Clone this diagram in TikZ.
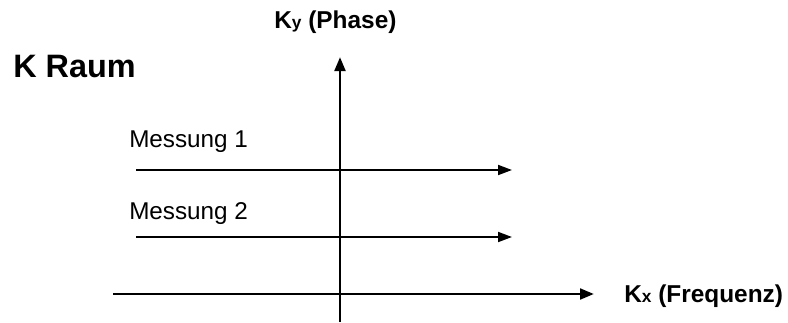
\documentclass[tikz,border=0pt]{standalone}
\usepackage{fontspec}
\setmainfont{Liberation Sans}
\usetikzlibrary{arrows.meta}
\begin{document}
\begin{tikzpicture}[x=0.75pt,y=-0.75pt,
  axis/.style={line width=2.2pt,-{Triangle[length=10.5pt,width=8pt]}},
  meas/.style={line width=1.4pt,-{Triangle[length=10.5pt,width=7.5pt]}},
  lbl/.style={inner sep=0pt,anchor=base west},
  bigfont/.style={font=\fontsize{24.3}{28}\selectfont\bfseries},
  axfont/.style={font=\fontsize{18.3}{22}\selectfont\bfseries},
  mfont/.style={font=\fontsize{18.2}{22}\selectfont}]
\useasboundingbox (0,0) rectangle (788,322);
% axes
\coordinate (ybot) at (340,322);
\coordinate (ytop) at (340,57);
\coordinate (xl) at (113,294);
\coordinate (xr) at (594,294);
\draw[axis] (ybot) -- (ytop);
\draw[axis] (xl) -- (xr);
% measurement lines
\coordinate (m1l) at (136,170);
\coordinate (m1r) at (512,170);
\coordinate (m2l) at (136,237);
\coordinate (m2r) at (512,237);
\draw[meas] (m1l) -- (m1r);
\draw[meas] (m2l) -- (m2r);
% labels
\node[lbl,bigfont] (title) at (13,77) {K Raum};
\node[lbl,mfont] (mes1) at (129,147) {Messung 1};
\node[lbl,mfont] (mes2) at (129,219) {Messung 2};
\node[lbl,axfont] (ky) at (274,28) {K{\fontsize{13}{15}\selectfont y} (Phase)};
\node[lbl,axfont] (kx) at (624,302) {K{\fontsize{13}{15}\selectfont x} (Frequenz)};
\end{tikzpicture}
\end{document}
